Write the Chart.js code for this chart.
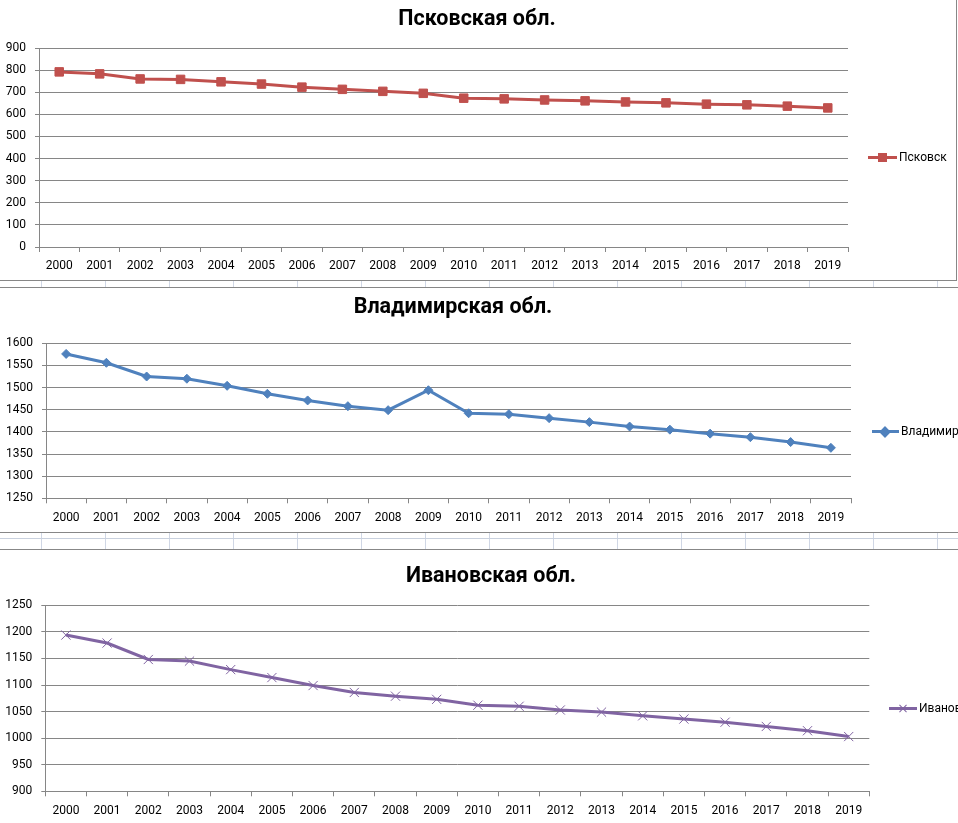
<!DOCTYPE html>
<html><head><meta charset="utf-8">
<script src="https://cdn.jsdelivr.net/npm/chart.js@4"></script>
<style>
html,body{margin:0;padding:0;background:#fff;overflow:hidden;width:958px;height:823px;}
body{position:relative;}
canvas{position:absolute;left:0;}
.title{position:absolute;font:bold 21.5px Roboto, sans-serif;color:#000;white-space:nowrap;transform:translate(-50%,-50%);line-height:1;}
.leg{position:absolute;height:14px;white-space:nowrap;font:12px Roboto, sans-serif;color:#000;}
.leg .ln{position:absolute;left:0;top:6px;height:3px;}
.leg .mk{position:absolute;}
.leg .tx{position:absolute;top:0;line-height:14px;}
.ln1{position:absolute;height:1px;}
.vl{position:absolute;width:1px;}
</style>
</head><body>
<canvas id="c1" width="957" height="280" style="top:0px"></canvas>
<canvas id="c2" width="958" height="244" style="top:288px"></canvas>
<canvas id="c3" width="958" height="273" style="top:550px"></canvas>

<div class="title" style="left:477px;top:17.5px">Псковская обл.</div>
<div class="title" style="left:453px;top:306px">Владимирская обл.</div>
<div class="title" style="left:491px;top:574.5px">Ивановская обл.</div>

<div class="leg" style="left:868px;top:150px;width:89px;overflow:hidden">
  <div class="ln" style="width:29px;background:#C0504D"></div>
  <div class="mk" style="left:10px;top:3px;width:9px;height:9px;background:#C0504D"></div>
  <div class="tx" style="left:31px">Псковск</div>
</div>
<div class="leg" style="left:872px;top:424px;width:120px">
  <div class="ln" style="width:27px;background:#4F81BD"></div>
  <div class="mk" style="left:8.5px;top:3.5px;width:6px;height:6px;background:#4F81BD;transform:rotate(45deg);border:1px solid #4F81BD"></div>
  <div class="tx" style="left:29px">Владимирск</div>
</div>
<div class="leg" style="left:889px;top:701px;width:120px">
  <div class="ln" style="width:28px;background:#8064A2"></div>
  <div class="mk" style="left:9px;top:7px;width:10px;height:1px;background:#8064A2;transform:rotate(45deg)"></div>
  <div class="mk" style="left:9px;top:7px;width:10px;height:1px;background:#8064A2;transform:rotate(-45deg)"></div>
  <div class="tx" style="left:30px">Ивановск</div>
</div>

<div id="sheet"></div>

<script>
// ---- data ----
const years = ['2000','2001','2002','2003','2004','2005','2006','2007','2008','2009',
               '2010','2011','2012','2013','2014','2015','2016','2017','2018','2019'];
const pskov = [792,783,760,758,747,737,723,713,704,695,673,670,665,661,656,652,646,643,637,629];
const vladimir = [1576,1556,1525,1520,1504,1486,1471,1458,1449,1494,1442,1440,1431,1422,1412,1405,1396,1388,1377,1364];
const ivanovo = [1194,1179,1148,1145,1129,1114,1099,1086,1079,1073,1062,1060,1053,1049,1042,1036,1030,1022,1014,1003];
const pskovTicks = [0,100,200,300,400,500,600,700,800,900];
const vladimirTicks = [1250,1300,1350,1400,1450,1500,1550,1600];
const ivanovoTicks = [900,950,1000,1050,1100,1150,1200,1250];

// ---- spreadsheet background lines ----
const sheet = document.getElementById('sheet');
function hline(y, x0, x1, c){const d=document.createElement('div');d.className='ln1';d.style.cssText=`top:${y}px;left:${x0}px;width:${x1-x0}px;background:${c}`;sheet.appendChild(d);}
function vline(x, y0, y1, c){const d=document.createElement('div');d.className='vl';d.style.cssText=`left:${x}px;top:${y0}px;height:${y1-y0}px;background:${c}`;sheet.appendChild(d);}
const dark='#878787', light='#d0d7e5';
for(let x=41;x<958;x+=64){vline(x,281,287,light);vline(x,533,549,light);}
hline(280,0,957,dark); vline(956,0,281,dark);
hline(287,0,958,dark);
hline(532,0,958,dark);
hline(538,0,958,'#c9d1de');
hline(549,0,958,dark);

Chart.defaults.font.family = 'Roboto, sans-serif';
Chart.defaults.font.size = 12;
Chart.defaults.color = '#000';

function makeChart(id, values, ticks, color, style, radius, pbw, pbg, yw, xh, padTop, padRight){
  return new Chart(document.getElementById(id), {
    type:'line',
    data:{labels:years, datasets:[{data:values, borderColor:color, backgroundColor:color,
      borderWidth:3, tension:0, pointStyle:style, pointRadius:radius, pointBorderWidth:pbw,
      pointBackgroundColor:pbg, pointBorderColor:color, clip:false}]},
    options:{
      responsive:false, animation:false, devicePixelRatio:1,
      layout:{padding:{top:padTop,right:padRight,left:0,bottom:0}, autoPadding:false},
      plugins:{legend:{display:false}, title:{display:false}, tooltip:{enabled:false}},
      scales:{
        x:{type:'category', offset:true,
           grid:{offset:true, drawOnChartArea:false, drawTicks:true, tickLength:5, color:'#868686'},
           border:{display:true, color:'#868686'},
           ticks:{padding:7, maxRotation:0, autoSkip:false, font:{size:12}},
           afterFit:s=>{s.height=xh;}},
        y:{min:ticks[0], max:ticks[ticks.length-1],
           afterBuildTicks:s=>{s.ticks=ticks.map(v=>({value:v}));},
           grid:{color:'#868686', tickLength:4, drawTicks:true},
           border:{display:true, color:'#868686'},
           ticks:{padding:9, font:{size:12}, callback:v=>String(v)},
           afterFit:s=>{s.width=yw;}}
      }
    }
  });
}
makeChart('c1', pskov, pskovTicks, '#C0504D', 'rect', 6, 1, '#C0504D', 39, 33, 48, 109);
makeChart('c2', vladimir, vladimirTicks, '#4F81BD', 'rectRot', 4.5, 1, '#4F81BD', 46, 33.7, 55.3, 107);
makeChart('c3', ivanovo, ivanovoTicks, '#8064A2', 'crossRot', 6.5, 1, '#8064A2', 45.3, 31.7, 55.3, 88.7);
</script>
</body></html>
